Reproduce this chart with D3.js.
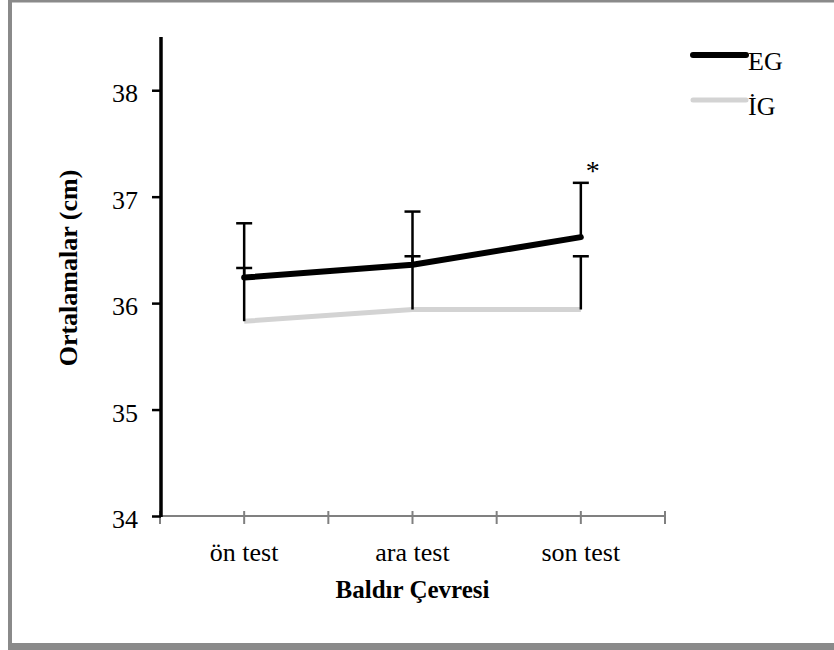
<!DOCTYPE html>
<html>
<head>
<meta charset="utf-8">
<script src="https://cdn.jsdelivr.net/npm/d3@7"></script>
<style>
  html, body { margin: 0; padding: 0; background: #fff; }
  svg { display: block; }
  svg text { font-family: "Liberation Serif", "Times New Roman", serif !important; fill: #000; }
</style>
</head>
<body>
<svg id="chart" width="834" height="650"></svg>
<script>
const categories = ["ön test", "ara test", "son test"];
const seriesNames = ["EG", "İG"];
const egMeans = [36.24, 36.36, 36.62];
const egSD = [0.51, 0.50, 0.51];
const igMeans = [35.83, 35.94, 35.94];
const igSD = [0.50, 0.50, 0.50];
const yTicks = [34, 35, 36, 37, 38];
const yDomain = [34, 38.5];
const xTitle = "Baldır Çevresi";
const yTitle = "Ortalamalar (cm)";
const significance = ["", "", "*"];

const FONT = '"Liberation Serif", "Times New Roman", serif';
const svg = d3.select("#chart");

// frame
const frameColor = "#8a8a8a";
svg.append("rect").attr("x", 8).attr("y", 0).attr("width", 826).attr("height", 2.5).attr("fill", frameColor);
svg.append("rect").attr("x", 8).attr("y", 0).attr("width", 4).attr("height", 650).attr("fill", frameColor);
svg.append("rect").attr("x", 8).attr("y", 643).attr("width", 826).attr("height", 7).attr("fill", frameColor);

const x = d3.scaleBand().domain(categories).range([160, 665]).padding(0);
const y = d3.scaleLinear().domain(yDomain).range([516, 37]);
const cx = c => x(c) + x.bandwidth() / 2;

// x axis (gray, with ticks at boundaries and centers)
const xAxisG = svg.append("g").attr("transform", `translate(0,${y(yDomain[0])})`);
xAxisG.append("line")
  .attr("x1", x.range()[0]).attr("x2", x.range()[1])
  .attr("stroke", "#808080").attr("stroke-width", 2);
const xTickPos = [];
categories.forEach((c, i) => {
  xTickPos.push(x(c));
  xTickPos.push(cx(c));
  if (i === categories.length - 1) xTickPos.push(x(c) + x.bandwidth());
});
xAxisG.selectAll("line.tk").data(xTickPos).join("line")
  .attr("class", "tk")
  .attr("x1", d => d).attr("x2", d => d)
  .attr("y1", -5).attr("y2", 8)
  .attr("stroke", "#808080").attr("stroke-width", 2);
xAxisG.selectAll("text.cat").data(categories).join("text")
  .attr("class", "cat")
  .attr("x", d => cx(d)).attr("y", 45)
  .attr("text-anchor", "middle")
  .style("font-family", FONT)
  .style("font-size", "26px")
  .text(d => d);

// y axis (black)
const yAxis = d3.axisLeft(y).tickValues(yTicks).tickSize(9).tickPadding(14).tickFormat(d3.format("d"));
const yAxisG = svg.append("g").attr("transform", `translate(161,0)`).call(yAxis)
  .attr("font-family", null).attr("font-size", null);
yAxisG.select(".domain").attr("stroke", "#000").attr("stroke-width", 3.5)
  .attr("d", `M0,${y(yDomain[1])}V${y(yDomain[0]) + 1}`);
yAxisG.selectAll(".tick line").attr("stroke", "#000").attr("stroke-width", 2.5);
yAxisG.selectAll(".tick text")
  .style("font-family", FONT)
  .style("font-size", "26px")
  .attr("fill", "#000")
  .attr("dy", "0.45em");

// axis titles
svg.append("text")
  .attr("x", cx(categories[1])).attr("y", 598)
  .attr("text-anchor", "middle")
  .style("font-family", FONT)
  .style("font-size", "25px").style("font-weight", "bold")
  .text(xTitle);
svg.append("text")
  .attr("transform", `translate(77,268) rotate(-90)`)
  .attr("text-anchor", "middle")
  .style("font-family", FONT)
  .style("font-size", "26px").style("font-weight", "bold")
  .text(yTitle);

// error bars (upper only)
function errorBars(means, sds) {
  const g = svg.append("g");
  categories.forEach((c, i) => {
    const xc = cx(c);
    const top = y(means[i] + sds[i]);
    g.append("line").attr("x1", xc).attr("x2", xc)
      .attr("y1", y(means[i])).attr("y2", top)
      .attr("stroke", "#000").attr("stroke-width", 2.5);
    g.append("line").attr("x1", xc - 8).attr("x2", xc + 8)
      .attr("y1", top).attr("y2", top)
      .attr("stroke", "#000").attr("stroke-width", 2.5);
  });
}

const line = d3.line().x((d, i) => cx(categories[i])).y(d => y(d));

// IG line
svg.append("path").datum(igMeans)
  .attr("d", line).attr("fill", "none")
  .attr("stroke", "#d3d3d3").attr("stroke-width", 5);
errorBars(igMeans, igSD);
errorBars(egMeans, egSD);
// EG line
svg.append("path").datum(egMeans)
  .attr("d", line).attr("fill", "none")
  .attr("stroke", "#000").attr("stroke-width", 6)
  .attr("stroke-linecap", "round").attr("stroke-linejoin", "round");

// significance markers
svg.selectAll("text.sig").data(significance).join("text")
  .attr("class", "sig")
  .attr("x", (d, i) => cx(categories[i]) + 12)
  .attr("y", (d, i) => y(egMeans[i] + egSD[i]) - 3)
  .attr("text-anchor", "middle")
  .style("font-family", FONT)
  .style("font-size", "28px")
  .text(d => d);

// legend
const legendColors = ["#000", "#d3d3d3"];
const legendWidths = [6, 5];
const legendY = [55, 100];
const lg = svg.append("g");
seriesNames.forEach((n, i) => {
  lg.append("line").attr("x1", 693).attr("x2", 746)
    .attr("y1", legendY[i]).attr("y2", legendY[i])
    .attr("stroke", legendColors[i]).attr("stroke-width", legendWidths[i])
    .attr("stroke-linecap", "round");
  lg.append("text").attr("x", 748).attr("y", legendY[i] + 15)
    .style("font-family", FONT)
    .style("font-size", "26px").text(n);
});
</script>
</body>
</html>
